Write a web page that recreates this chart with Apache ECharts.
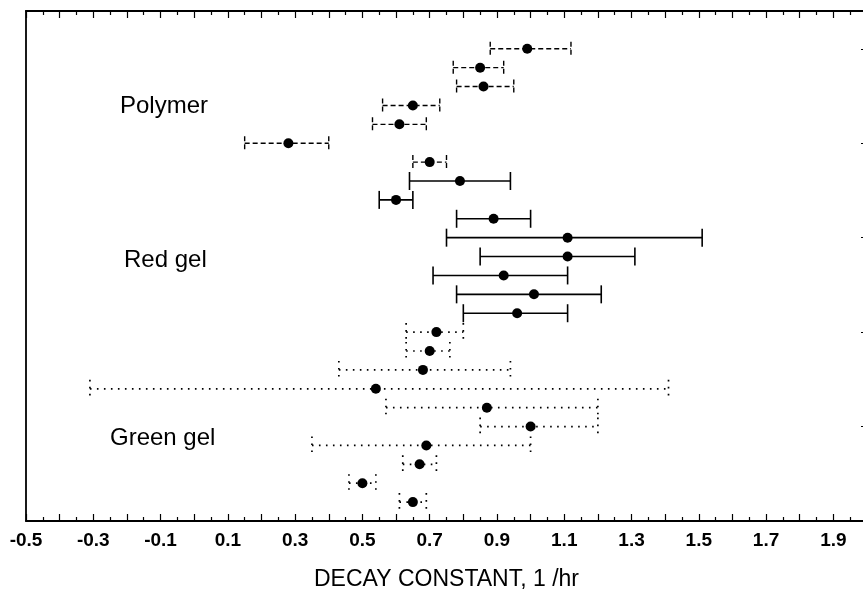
<!DOCTYPE html>
<html><head><meta charset="utf-8">
<script src="https://cdn.jsdelivr.net/npm/echarts@6/dist/echarts.min.js"></script>
<style>html,body{margin:0;padding:0;background:#fff}#c{width:863px;height:592px}</style>
</head><body><div id="c"></div>
<script>
// Polymer group (dashed), top to bottom
const polymerMean = [0.99, 0.85, 0.86, 0.65, 0.61, 0.28, 0.70];
const polymerLow  = [0.88, 0.77, 0.78, 0.56, 0.53, 0.15, 0.65];
const polymerHigh = [1.12, 0.92, 0.95, 0.73, 0.69, 0.40, 0.75];
// Red gel group (solid)
const redMean = [0.79, 0.60, 0.89, 1.11, 1.11, 0.92, 1.01, 0.96];
const redLow  = [0.64, 0.55, 0.78, 0.75, 0.85, 0.71, 0.78, 0.80];
const redHigh = [0.94, 0.65, 1.00, 1.51, 1.31, 1.11, 1.21, 1.11];
// Green gel group (dotted)
const greenMean = [0.72, 0.70, 0.68, 0.54, 0.87, 1.00, 0.69, 0.67, 0.50, 0.65];
const greenLow  = [0.63, 0.63, 0.43, -0.31, 0.57, 0.85, 0.35, 0.62, 0.46, 0.61];
const greenHigh = [0.80, 0.76, 0.94, 1.41, 1.20, 1.20, 1.00, 0.72, 0.54, 0.69];
const groupNames = ['Polymer', 'Red gel', 'Green gel'];
const xAxisName = 'DECAY CONSTANT, 1 /hr';

const totalRows = polymerMean.length + redMean.length + greenMean.length;
let rowCounter = 0;
function build(mean, low, high) {
  const bars = [], pts = [];
  for (let i = 0; i < mean.length; i++) {
    const y = totalRows + 1 - (++rowCounter);
    bars.push([y, low[i], high[i]]);
    pts.push([mean[i], y]);
  }
  return {bars, pts};
}
const P = build(polymerMean, polymerLow, polymerHigh);
const R = build(redMean, redLow, redHigh);
const G = build(greenMean, greenLow, greenHigh);

function makeRender(dash, capHalf, lw) {
  return function (params, api) {
    const y = api.value(0), lo = api.value(1), hi = api.value(2);
    const a = api.coord([lo, y]), b = api.coord([hi, y]);
    const st = {stroke: '#000', lineWidth: lw, lineDash: dash, fill: null};
    return {type: 'group', children: [
      {type: 'line', shape: {x1: a[0], y1: a[1], x2: b[0], y2: b[1]}, style: st},
      {type: 'line', shape: {x1: a[0], y1: a[1] - capHalf, x2: a[0], y2: a[1] + capHalf}, style: st},
      {type: 'line', shape: {x1: b[0], y1: b[1] - capHalf, x2: b[0], y2: b[1] + capHalf}, style: st}
    ]};
  };
}
function errSeries(data, dash, capHalf, lw) {
  return {type: 'custom', xAxisIndex: 0, yAxisIndex: 0, data: data,
    encode: {x: [1, 2], y: 0}, renderItem: makeRender(dash, capHalf, lw), silent: true, z: 2, clip: false};
}
function dotSeries(data) {
  return {type: 'scatter', xAxisIndex: 0, yAxisIndex: 0, data: data, symbol: 'circle',
    symbolSize: 10, itemStyle: {color: '#000', opacity: 1}, silent: true, z: 3};
}

const chart = echarts.init(document.getElementById('c'), null, {renderer: 'canvas'});
const axisLineStyle = {color: '#000', width: 1.8};
chart.setOption({
  animation: false,
  backgroundColor: '#fff',
  grid: {left: 26, width: 841, top: 11, height: 510, containLabel: false, outerBoundsMode: 'none'},
  xAxis: [{
    type: 'value', position: 'bottom', min: -0.5, max: 2.0, interval: 0.1,
    axisLine: {show: true, onZero: false, lineStyle: axisLineStyle},
    axisTick: {show: true, inside: true, length: 7, lineStyle: {color: '#000', width: 1.2}},
    minorTick: {show: true, splitNumber: 2, length: 4, lineStyle: {color: '#000', width: 1.2}},
    splitLine: {show: false},
    axisLabel: {show: true, margin: 10, color: '#000', fontSize: 19, fontWeight: 'bold',
      fontFamily: 'Liberation Sans, Arial, sans-serif',
      formatter: function (v) { return Math.round((v + 0.5) * 10) % 2 === 0 ? v.toFixed(1) : ''; }},
    name: xAxisName, nameLocation: 'middle', nameGap: 47,
    nameTextStyle: {color: '#000', fontSize: 23, fontFamily: 'Liberation Sans, Arial, sans-serif'}
  }, {
    type: 'value', position: 'top', min: -0.5, max: 2.0, interval: 0.1,
    axisLine: {show: true, onZero: false, lineStyle: axisLineStyle},
    axisTick: {show: true, inside: true, length: 7, lineStyle: {color: '#000', width: 1.2}},
    minorTick: {show: true, splitNumber: 2, length: 4, lineStyle: {color: '#000', width: 1.2}},
    splitLine: {show: false}, axisLabel: {show: false}
  }],
  yAxis: [{
    type: 'value', position: 'left', min: 0, max: totalRows + 2, interval: 1,
    axisLine: {show: true, onZero: false, lineStyle: axisLineStyle},
    axisTick: {show: false}, axisLabel: {show: false}, splitLine: {show: false}
  }, {
    type: 'value', position: 'right', min: 0, max: totalRows + 2, interval: 5,
    axisLine: {show: true, onZero: false, lineStyle: axisLineStyle},
    axisTick: {show: true, inside: true, length: 6, lineStyle: {color: '#000', width: 1.2}},
    axisLabel: {show: false}, splitLine: {show: false}
  }],
  graphic: [
    {type: 'text', left: 120, top: 94, style: {text: groupNames[0], fill: '#000', font: '24px "Liberation Sans", Arial, sans-serif'}},
    {type: 'text', left: 124, top: 248, style: {text: groupNames[1], fill: '#000', font: '24px "Liberation Sans", Arial, sans-serif'}},
    {type: 'text', left: 110, top: 426, style: {text: groupNames[2], fill: '#000', font: '24px "Liberation Sans", Arial, sans-serif'}}
  ],
  series: [
    errSeries(P.bars, [5, 3], 7, 1.4),
    errSeries(R.bars, null, 9, 1.6),
    errSeries(G.bars, [1.6, 5.4], 9, 1.7),
    dotSeries(P.pts), dotSeries(R.pts), dotSeries(G.pts)
  ]
});
</script></body></html>
